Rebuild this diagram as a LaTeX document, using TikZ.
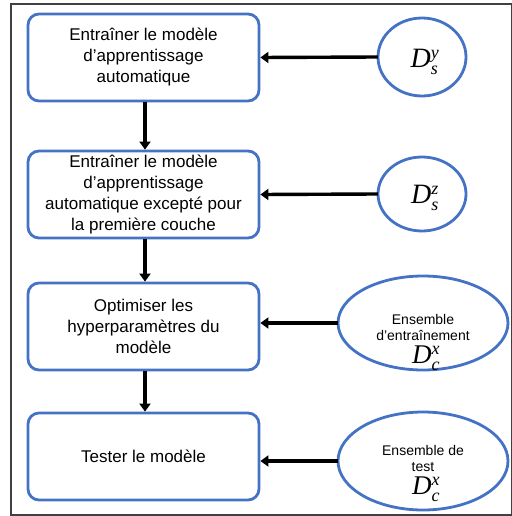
\documentclass[tikz,border=0pt]{standalone}
\usepackage{fontspec}
\setmainfont{Liberation Sans}
\newfontfamily\dfont{Liberation Serif}
\usetikzlibrary{arrows.meta}
\definecolor{oblue}{HTML}{4472C4}
\newcommand\Dsym[3]{{\fontsize{#3}{#3}\selectfont\dfont\itshape D$_{\raisebox{-1pt}{\fontsize{18}{18}\selectfont\dfont\itshape #1}}^{\raisebox{0pt}{\fontsize{18}{18}\selectfont\dfont\itshape #2}}$}}
\begin{document}
\begin{tikzpicture}[x=1pt,y=-1pt,
  box/.style={draw=oblue,line width=2.8pt,rounded corners=11pt,minimum width=231pt,minimum height=87pt,align=center,font=\fontsize{17}{21}\selectfont,inner sep=0pt},
  ell/.style={draw=oblue,line width=2.8pt},
  lbl/.style={align=center,inner sep=0pt,font=\fontsize{14}{16}\selectfont},
  hit/.style={inner sep=0pt},
  arr/.style={line width=3.4pt,-{Triangle[length=8pt,width=11pt]}}]
\useasboundingbox (0,0) rectangle (511,516);
\draw[line width=1.3pt,draw=black!75] (11,4) rectangle (512,515);
\node[box] (b1) at (143.5,57.5) {Entraîner le modèle\\d’apprentissage\\automatique};
\node[box] (b2) at (143.5,194.5) {Entraîner le modèle\\d’apprentissage\\automatique excepté pour\\la première couche};
\node[box] (b3) at (143.5,326.5) {Optimiser les\\hyperparamètres du\\modèle};
\node[box] (b4) at (143.5,456.5) {Tester le modèle};
% circle 1
\draw[ell] (422,57) ellipse (44 and 39);
\node[hit,minimum width=88pt,minimum height=78pt] (c1) at (422,57) {};
\node[hit] (d1) at (425,62) {\Dsym{s}{y}{28}};
% circle 2
\draw[ell] (422,194) ellipse (44 and 37);
\node[hit,minimum width=88pt,minimum height=74pt] (c2) at (422,194) {};
\node[hit] (d2) at (425,198) {\Dsym{s}{z}{28}};
% ellipse 3
\draw[ell] (423,323) ellipse (85 and 47);
\node[hit,minimum width=170pt,minimum height=94pt] (c3) at (423,323) {};
\node[lbl] (t3) at (423,327) {Ensemble\\d’entraînement};
\node[hit] (d3) at (426,358) {\Dsym{c}{x}{27}};
% ellipse 4
\draw[ell] (423,461) ellipse (85 and 49);
\node[hit,minimum width=170pt,minimum height=98pt] (c4) at (423,461) {};
\node[lbl] (t4) at (423,458) {Ensemble de\\test};
\node[hit] (d4) at (426,489) {\Dsym{c}{x}{27}};
\draw[arr] (c1.west) -- (b1.east);
\draw[arr] (c2.west) -- (b2.east);
\draw[arr] (c3.west) -- (b3.east |- c3.west);
\draw[arr] (c4.west) -- (b4.east |- c4.west);
\draw[arr] (b1.south -| 145,0) -- (b2.north -| 145,0);
\draw[arr] (b2.south -| 145,0) -- (b3.north -| 145,0);
\draw[arr] (b3.south -| 145,0) -- (b4.north -| 145,0);
\end{tikzpicture}
\end{document}
